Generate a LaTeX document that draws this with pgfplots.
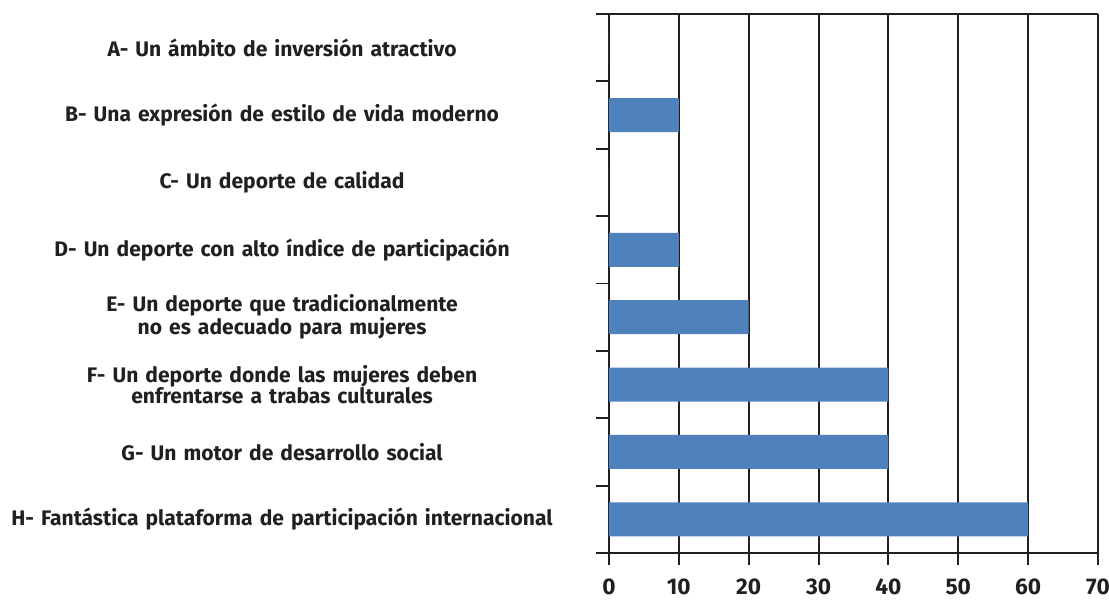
\documentclass[border=0pt]{standalone}
\usepackage{pgfplots}
\pgfplotsset{compat=1.18}
\usepackage{fontspec}
\setmainfont{Fira Sans}
\definecolor{barblue}{HTML}{4F81BD}
\definecolor{ink}{HTML}{231F20}
\begin{document}
\begin{tikzpicture}
\begin{axis}[
  scale only axis,
  width=366.75pt, height=404.25pt,
  xbar, bar width=25.5pt,
  xmin=0, xmax=70,
  ymin=-0.5, ymax=7.5,
  xtick={0,10,...,70},
  ytick={0,...,7},
  minor ytick={-0.5,0.5,...,7.5},
  yticklabels={
    {H- Fantástica plataforma de participación internacional},
    {G- Un motor de desarrollo social},
    {F- Un deporte donde las mujeres deben\\enfrentarse a trabas culturales},
    {E- Un deporte que tradicionalmente\\no es adecuado para mujeres},
    {D- Un deporte con alto índice de participación},
    {C- Un deporte de calidad},
    {B- Una expresión de estilo de vida moderno},
    {A- Un ámbito de inversión atractivo}},
  xmajorgrids,
  major grid style={draw=ink, line width=1.4pt},
  axis line style={draw=ink, line width=1.4pt},
  tick style={draw=ink, line width=1.4pt},
  tick align=outside,
  xtick pos=bottom, ytick pos=left,
  major tick length=9pt,
  major y tick style={draw=none},
  minor tick length=9.75pt,
  axis x line*=bottom, axis y line*=left,
  /pgf/number format/assume math mode=true,
  xticklabel style={font=\bfseries\fontsize{17}{20}\selectfont, text=ink, yshift=-7pt},
  yticklabel style={font=\bfseries\fontsize{15.8}{16}\selectfont, text=ink,
     text width=420pt, align=center, anchor=east, inner sep=0pt, xshift=-26pt},
  clip=false,
]
\addplot[fill=barblue, draw=none] coordinates {
  (60,0) (40,1) (40,2) (20,3) (10,4) (0,5) (10,6) (0,7)};
\draw[ink, line width=1.4pt] (rel axis cs:0,1) -- (rel axis cs:1,1);
\draw[ink, line width=1.4pt] (rel axis cs:1,0) -- (rel axis cs:1,1);
\coordinate (sw) at (rel axis cs:0,0);
\coordinate (ne) at (rel axis cs:1,1);
\end{axis}
\pgfresetboundingbox
\path ([shift={(-456.75pt,-36.75pt)}]sw) rectangle ([shift={(8.25pt,10.5pt)}]ne);
\end{tikzpicture}
\end{document}
